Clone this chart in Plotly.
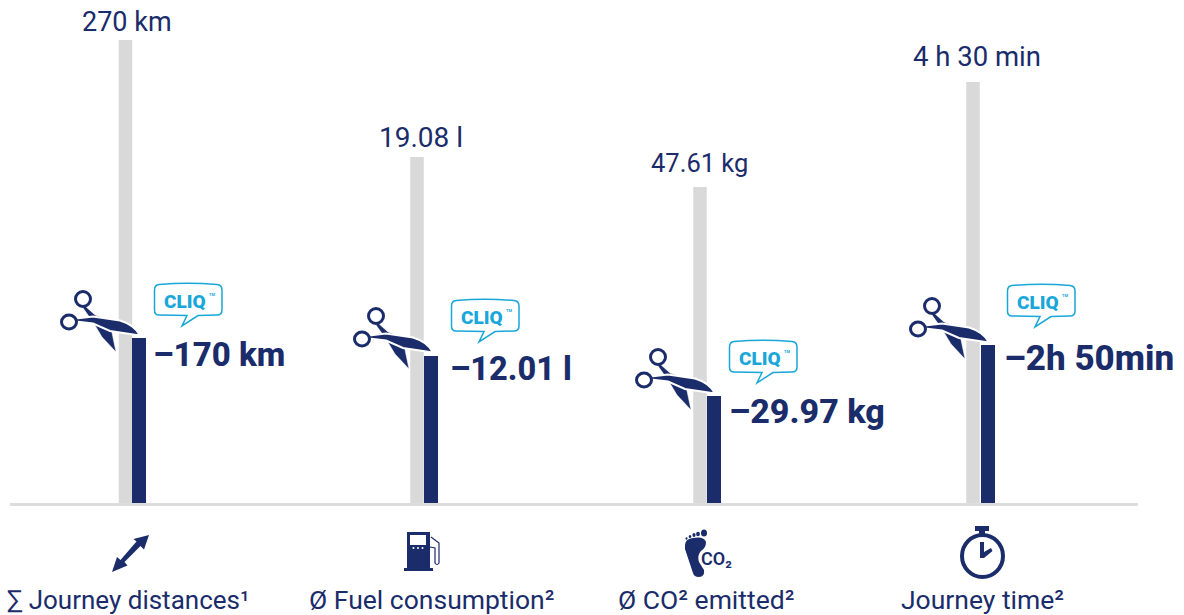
import plotly.graph_objects as go

# ---- data (heights, common chart scale) ----
categories = ["∑ Journey distances¹", "Ø Fuel consumption²", "Ø CO² emitted²", "Journey time²"]
total_heights = [464, 347, 317, 422]
remaining_heights = [166, 148, 108, 159]
total_labels = ["270 km", "19.08 l", "47.61 kg", "4 h 30 min"]
saving_labels = ["–170 km", "–12.01 l", "–29.97 kg", "–2h 50min"]

# ---- layout constants ----
W, H, BASE = 1184, 615, 504
NAVY, GREY, CYAN = "#1b2c6b", "#d9d9d9", "#19a7d9"
FONT = "Roboto"
grey_x = [125.5, 417, 700, 973]
navy_x = [139, 431, 714, 988]
total_label_xy = [(127, 22), (421, 137), (699, 163), (977, 56)]
total_sizes = [27, 28, 25.5, 27.5]
saving_label_xy = [(151, 354), (448, 369), (727, 411), (1002, 358)]
saving_sizes = [33, 32.5, 34, 35]
cat_xy = [(128, 600), (431, 599.5), (706, 599.5), (982, 599.5)]
cat_sizes = [26, 26.5, 26.5, 26.5]
scissor_off = [(0, 0), (293, 17), (575, 58), (849, 7)]
bubble_off = [(0, 0), (297, 16), (575, 57), (853, 1)]


def Y(py):
    return BASE - py


def path(cmds, dx=0, dy=0):
    out = []
    for c in cmds:
        op, nums = c[0], c[1:]
        out.append(op)
        for i in range(0, len(nums), 2):
            out.append(f"{nums[i] + dx:.2f},{Y(nums[i + 1] + dy):.2f}")
    return " ".join(out)


shapes, annotations = [], []


def add_path(cmds, fill=None, line=None, width=0, dx=0, dy=0):
    shapes.append(dict(type="path", xref="x", yref="y", path=path(cmds, dx, dy),
                       fillcolor=fill or "rgba(0,0,0,0)",
                       line=dict(color=line or "rgba(0,0,0,0)", width=width)))


def add_ellipse(cx, cy, rx, ry, fill=None, line=None, width=0):
    shapes.append(dict(type="circle", xref="x", yref="y", x0=cx - rx, x1=cx + rx,
                       y0=Y(cy + ry), y1=Y(cy - ry), fillcolor=fill or "rgba(0,0,0,0)",
                       line=dict(color=line or "rgba(0,0,0,0)", width=width)))


def add_text(x, y, text, size, color=NAVY, weight=400, anchor="center"):
    annotations.append(dict(x=x, y=Y(y), xref="x", yref="y", text=text, showarrow=False,
                            xanchor=anchor, yanchor="middle",
                            font=dict(family=FONT, size=size, color=color, weight=weight)))


# baseline
shapes.append(dict(type="line", xref="x", yref="y", x0=10, x1=1138, y0=Y(504.5), y1=Y(504.5),
                   line=dict(color="#dddddd", width=3)))


def scissors(dx, dy):
    # lower blade and handle
    add_path([("M", 85, 306), ("L", 95, 315), ("L", 106, 319), ("L", 111, 328), ("L", 116, 352), ("L", 102, 337),
              ("L", 93, 322), ("L", 83, 308), ("Z",)], fill=NAVY, line="white", width=0.5, dx=dx, dy=dy)
    # upper blade and handle
    add_path([("M", 76, 318.5), ("L", 93, 316.5), ("L", 120, 320.5), ("Q", 135, 325, 140, 335.5),
              ("L", 110, 331), ("L", 93, 323.5), ("L", 76, 321.5), ("Z",)],
             fill=NAVY, line="white", width=2, dx=dx, dy=dy)
    add_ellipse(83 + dx, 299 + dy, 7.5, 7.5, fill="white", line=NAVY, width=3)
    add_ellipse(69 + dx, 322 + dy, 7.5, 7, fill="white", line=NAVY, width=3)


def bubble(dx, dy):
    add_path([("M", 159, 284.5), ("Q", 188, 282, 217, 284.5), ("Q", 222, 285, 222, 290),
              ("L", 222, 310), ("Q", 222, 315, 217, 315), ("L", 198, 315.5), ("L", 182, 326),
              ("L", 187, 315.5), ("L", 159, 315), ("Q", 154.5, 315, 154.5, 310),
              ("L", 154.5, 290), ("Q", 154.5, 285, 159, 284.5), ("Z",)],
             fill="white", line=CYAN, width=1.5, dx=dx, dy=dy)
    add_text(184.5 + dx, 301 + dy, "CLIQ", 19, color=CYAN, weight=900)
    add_text(212 + dx, 294.5 + dy, "TM", 4, color=CYAN, weight=700)


for (sx, sy), (bx, by) in zip(scissor_off, bubble_off):
    scissors(sx, sy)
    bubble(bx, by)

# value labels
for (x, y), t, s in zip(total_label_xy, total_labels, total_sizes):
    add_text(x, y, t, s)
for (x, y), t, s in zip(saving_label_xy, saving_labels, saving_sizes):
    add_text(x, y, t, s, weight=800, anchor="left")
for (x, y), t, s in zip(cat_xy, categories, cat_sizes):
    add_text(x, y, t, s)

# ---- icons ----
# double arrow
add_path([("M", 149, 535), ("L", 144, 549.5), ("L", 140.5, 546), ("L", 124.5, 562), ("L", 127.5, 565.5),
          ("L", 112, 572), ("L", 117, 557), ("L", 120.5, 560), ("L", 136.5, 541.5), ("L", 133.5, 539), ("Z",)],
         fill=NAVY)
# fuel pump
add_path([("M", 407, 532), ("L", 430, 532), ("L", 430, 568), ("L", 433, 568), ("L", 433, 571),
          ("L", 404, 571), ("L", 404, 568), ("L", 407, 568), ("Z",)], fill=NAVY)
add_path([("M", 410, 535), ("L", 426, 535), ("L", 426, 545), ("L", 410, 545), ("Z",)], fill="white")
add_path([("M", 431, 537), ("L", 439, 543), ("L", 439, 563), ("Q", 437, 566, 435, 563), ("L", 435, 548), ("L", 430, 547)],
         line=NAVY, width=1.2)
for px_ in (413.5, 418, 422.5):
    add_ellipse(px_, 548, 1, 1, fill="white")
# footprint
add_path([("M", 685, 545), ("Q", 685, 539, 693, 538), ("Q", 704, 536, 706, 542), ("Q", 706, 548, 701, 551),
          ("Q", 697, 555, 699, 562), ("L", 704, 570), ("Q", 705, 577, 699, 577), ("Q", 694, 577, 693, 573),
          ("Q", 688, 558, 685, 549), ("Z",)], fill=NAVY)
for cx, cy, r in [(704, 533, 3), (698, 534, 1.9), (694, 535, 1.6), (690, 536.5, 1.3), (686.5, 538.5, 1)]:
    add_ellipse(cx, cy, r, r * 1.2, fill=NAVY)
add_text(716, 558, "CO₂", 18, weight=600)
# stopwatch
add_path([("M", 975, 526), ("L", 989, 526), ("L", 989, 531), ("L", 985, 531), ("L", 985, 536),
          ("L", 979, 536), ("L", 979, 531), ("L", 975, 531), ("Z",)], fill=NAVY)
add_ellipse(982.5, 556, 20.5, 21, fill="white", line=NAVY, width=4)
add_path([("M", 980, 542), ("L", 984, 542), ("L", 984, 552), ("L", 991, 548), ("L", 992.5, 551), ("L", 984, 558), ("L", 980, 558), ("Z",)],
         fill=NAVY)

fig = go.Figure()
fig.add_trace(go.Bar(x=grey_x, y=total_heights, width=13.5, marker=dict(color=GREY, line=dict(width=0)),
                     name="Without", hoverinfo="skip"))
fig.add_trace(go.Bar(x=navy_x, y=remaining_heights, width=14, marker=dict(color=NAVY, line=dict(width=0)),
                     name="With CLIQ", hoverinfo="skip"))
fig.update_layout(
    width=W, height=H, margin=dict(l=0, r=0, t=0, b=0), barmode="overlay",
    paper_bgcolor="white", plot_bgcolor="white", showlegend=False,
    xaxis=dict(range=[0, W], visible=False, fixedrange=True),
    yaxis=dict(range=[Y(H), Y(0)], visible=False, fixedrange=True),
    shapes=shapes, annotations=annotations,
)
fig.write_html("out.html", config=dict(displayModeBar=False),
               post_script="document.body.style.margin='0';document.documentElement.style.overflow='hidden';")
